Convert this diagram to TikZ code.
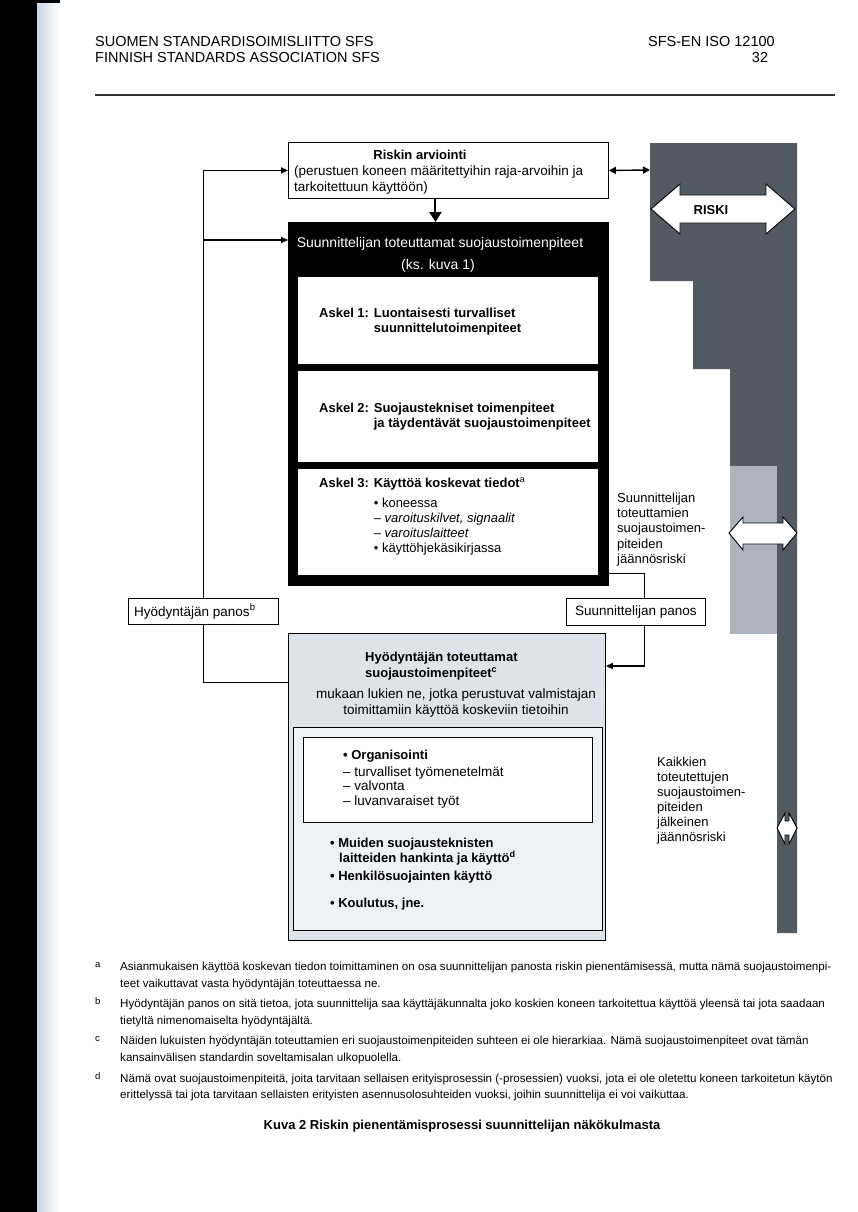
\documentclass[tikz,border=0pt]{standalone}
\usepackage{fontspec}
\setmainfont{Liberation Sans}
\usetikzlibrary{arrows.meta,calc}
\definecolor{darkbar}{RGB}{82,90,100}
\definecolor{lightbar}{RGB}{172,180,192}
\definecolor{userfill}{RGB}{221,227,235}
\definecolor{framefill}{RGB}{238,241,246}
\definecolor{edgeblue}{RGB}{200,216,230}
\newcommand\fshdr{\fontsize{14.5}{16}\selectfont}
\newcommand\fsbody{\fontsize{13.5}{15.5}\selectfont}
\newcommand\fsbold{\fontsize{13}{15.5}\selectfont\bfseries}
\newcommand\fsside{\fontsize{13}{15}\selectfont}
\newcommand\fsnote{\fontsize{11.6}{13}\selectfont}
\newcommand\fslab{\fontsize{9.5}{10}\selectfont}
\begin{document}
\begin{tikzpicture}[x=1pt,y=-1pt,
  box/.style={draw=black, line width=0.9pt, fill=white, inner sep=0pt, anchor=north west},
  lt/.style={inner sep=0pt, anchor=base west, font=\fsbody},
  ct/.style={inner sep=0pt, anchor=base, font=\fsbody},
  bt/.style={inner sep=0pt, anchor=base west, font=\fsbold},
  st/.style={inner sep=0pt, anchor=base west, font=\fsside},
  nt/.style={inner sep=0pt, anchor=base west, font=\fsnote},
  conn/.style={line width=0.9pt},
  fb/.style={line width=1.4pt},
  tip/.style={-{Triangle[length=7pt,width=6pt]}},
  bigarrow/.style={draw=black, line width=0.9pt, fill=white},
]
\useasboundingbox (0,0) rectangle (857,1212);
\fill[white] (0,0) rectangle (857,1212);
% page edge
\fill[black] (0,0) rectangle (37,1212);
\shade[left color=edgeblue, right color=white] (37,3) rectangle (60,1212);
\fill[black] (37,0) rectangle (60,3);

% header
\node[lt, font=\fshdr] (h1) at (95,47) {SUOMEN STANDARDISOIMISLIITTO SFS};
\node[lt, font=\fshdr] (h2) at (95,63) {FINNISH STANDARDS ASSOCIATION SFS};
\node[lt, font=\fshdr] (h3) at (648,47) {SFS-EN ISO 12100};
\node[ct, font=\fshdr] (h4) at (760,63) {32};
\draw[line width=1.2pt, black!80] (95,95) -- (835,95);

% risk bar
\fill[darkbar] (650,143) -- (797,143) -- (797,933) -- (777,933) -- (777,466)
  -- (730,466) -- (730,369) -- (693,369) -- (693,281) -- (650,281) -- cycle;
\fill[lightbar] (730,466) rectangle (777,634);
\draw[bigarrow] (651,209) -- (680,184) -- (680,195) -- (766,195) -- (766,184) -- (795,209)
  -- (766,234) -- (766,223) -- (680,223) -- (680,234) -- cycle;
\node[inner sep=0pt, font=\fsbold] (riski) at (711,210) {RISKI};
\draw[bigarrow] (729,533) -- (743,517) -- (743,523) -- (783,523) -- (783,517) -- (797,533)
  -- (783,550) -- (783,544) -- (743,544) -- (743,550) -- cycle;
\draw[bigarrow] (777,828) -- (785,813) -- (785,821) -- (789,821) -- (789,813) -- (797,828)
  -- (789,844) -- (789,835) -- (785,835) -- (785,844) -- cycle;
\coordinate (barL) at (650,170);

% top box
\node[box, minimum width=320pt, minimum height=56pt] (risk) at (288,142) {};
\node[ct, font=\fsbold] (rt1) at (420,159) {Riskin arviointi};
\node[lt] (rt2) at (294,175) {(perustuen koneen määritettyihin raja-arvoihin ja};
\node[lt] (rt3) at (294,191) {tarkoitettuun käyttöön)};

% black box
\node[box, fill=black, minimum width=320pt, minimum height=363pt] (bbox) at (288,222) {};
\node[ct, text=white, font=\fontsize{14}{16}\selectfont] (bt1) at (440,247) {Suunnittelijan toteuttamat suojaustoimenpiteet};
\node[ct, text=white, font=\fontsize{14}{16}\selectfont] (bt2) at (438,269) {(ks. kuva 1)};
\node[box, draw=none, minimum width=300pt, minimum height=87pt] (step1) at (298,277) {};
\node[box, draw=none, minimum width=300pt, minimum height=91pt] (step2) at (298,371) {};
\node[box, draw=none, minimum width=300pt, minimum height=106pt] (step3) at (298,469) {};
\node[bt] (s1a) at (319,317) {Askel 1: Luontaisesti turvalliset};
\node[bt] (s1b) at (319,332) {\phantom{Askel 1: }suunnittelutoimenpiteet};
\node[bt] (s2a) at (319,412) {Askel 2: Suojaustekniset toimenpiteet};
\node[bt] (s2b) at (319,427) {\phantom{Askel 2: }ja täydentävät suojaustoimenpiteet};
\node[bt] (s3a) at (319,487) {Askel 3: Käyttöä koskevat tiedot\textsuperscript{\normalfont a}};
\node[bt] (s3b) at (319,507) {\phantom{Askel 3: }\normalfont• koneessa};
\node[bt] (s3c) at (319,522) {\phantom{Askel 3: }\normalfont– \textit{varoituskilvet, signaalit}};
\node[bt] (s3d) at (319,537) {\phantom{Askel 3: }\normalfont– \textit{varoituslaitteet}};
\node[bt] (s3e) at (319,552) {\phantom{Askel 3: }\normalfont• käyttöhjekäsikirjassa};

% side texts
\node[st] (r1) at (617,502) {Suunnittelijan};
\node[st] (r2) at (617,517) {toteuttamien};
\node[st] (r3) at (617,532) {suojaustoimen-};
\node[st] (r4) at (617,548) {piteiden};
\node[st] (r5) at (617,563) {jäännösriski};
\node[st] (k1) at (657,766) {Kaikkien};
\node[st] (k2) at (657,781) {toteutettujen};
\node[st] (k3) at (657,796) {suojaustoimen-};
\node[st] (k4) at (657,811) {piteiden};
\node[st] (k5) at (657,826) {jälkeinen};
\node[st] (k6) at (657,841) {jäännösriski};

% input boxes
\node[box, minimum width=150pt, minimum height=26pt] (hpanos) at (128,598) {};
\node[lt] (hp) at (134,616) {Hyödyntäjän panos\textsuperscript{b}};
\node[box, minimum width=139pt, minimum height=27pt] (spanos) at (566,598) {};
\node[ct] (sp) at (spanos.center) [anchor=center] {Suunnittelijan panos};

% user box
\node[box, fill=userfill, minimum width=317pt, minimum height=307pt] (ubox) at (288,633) {};
\node[bt] (ut1) at (365,661) {Hyödyntäjän toteuttamat};
\node[bt] (ut2) at (365,677) {suojaustoimenpiteet\textsuperscript{c}};
\node[ct] (ut3) at (456,698) {mukaan lukien ne, jotka perustuvat valmistajan};
\node[ct] (ut4) at (456,714) {toimittamiin käyttöä koskeviin tietoihin};
\node[box, fill=framefill, minimum width=309pt, minimum height=203pt] (uframe) at (293,727) {};
\node[box, minimum width=289pt, minimum height=85pt] (ibox) at (303,737) {};
\node[bt] (o1) at (343,759) {• Organisointi};
\node[lt] (o2) at (343,776) {– turvalliset työmenetelmät};
\node[lt] (o3) at (343,790) {– valvonta};
\node[lt] (o4) at (343,805) {– luvanvaraiset työt};
\node[bt] (m1) at (330,847) {• Muiden suojausteknisten};
\node[bt] (m2) at (339,862) {laitteiden hankinta ja käyttö\textsuperscript{d}};
\node[bt] (m3) at (330,880) {• Henkilösuojainten käyttö};
\node[bt] (m4) at (330,907) {• Koulutus, jne.};

% connectors
\coordinate (j1) at (203,240);
\draw[fb, tip] (hpanos.north) |- (risk.west);
\draw[fb, tip] (j1) -- (bbox.west |- j1);
\draw[line width=2pt, -{Triangle[length=10pt,width=12pt]}] ($(risk.south)+(-13,0)$) -- ($(bbox.north)+(-13,0)$);
\draw[fb, {Triangle[length=7pt,width=7pt]}-{Triangle[length=7pt,width=7pt]}] (risk.east) -- (barL);
\draw[conn] ($(bbox.south east)+(0,-12)$) -| ($(spanos.north)+(8.5,0)$);
\draw[conn, fb, tip] ($(spanos.south)+(8.5,0)$) |- ($(ubox.north east)+(0,33)$);
\draw[conn] (hpanos.south) |- ($(ubox.north west)+(0,49)$);

% footnotes
\node[nt, font=\fslab] (fa) at (95,967) {a};
\node[nt] (fa1) at (120,970) {Asianmukaisen käyttöä koskevan tiedon toimittaminen on osa suunnittelijan panosta riskin pienentämisessä, mutta nämä suojaustoimenpi-};
\node[nt] (fa2) at (120,987) {teet vaikuttavat vasta hyödyntäjän toteuttaessa ne.};
\node[nt, font=\fslab] (fb) at (95,1004) {b};
\node[nt] (fb1) at (120,1007) {Hyödyntäjän panos on sitä tietoa, jota suunnittelija saa käyttäjäkunnalta joko koskien koneen tarkoitettua käyttöä yleensä tai jota saadaan};
\node[nt] (fb2) at (120,1024) {tietyltä nimenomaiselta hyödyntäjältä.};
\node[nt, font=\fslab] (fc) at (95,1041) {c};
\node[nt] (fc1) at (120,1044) {Näiden lukuisten hyödyntäjän toteuttamien eri suojaustoimenpiteiden suhteen ei ole hierarkiaa. Nämä suojaustoimenpiteet ovat tämän};
\node[nt] (fc2) at (120,1061) {kansainvälisen standardin soveltamisalan ulkopuolella.};
\node[nt, font=\fslab] (fd) at (95,1079) {d};
\node[nt] (fd1) at (120,1082) {Nämä ovat suojaustoimenpiteitä, joita tarvitaan sellaisen erityisprosessin (-prosessien) vuoksi, jota ei ole oletettu koneen tarkoitetun käytön};
\node[nt] (fd2) at (120,1098) {erittelyssä tai jota tarvitaan sellaisten erityisten asennusolosuhteiden vuoksi, joihin suunnittelija ei voi vaikuttaa.};
\node[ct, font=\fsbold] (cap) at (462,1129) {Kuva 2 Riskin pienentämisprosessi suunnittelijan näkökulmasta};
\end{tikzpicture}
\end{document}
